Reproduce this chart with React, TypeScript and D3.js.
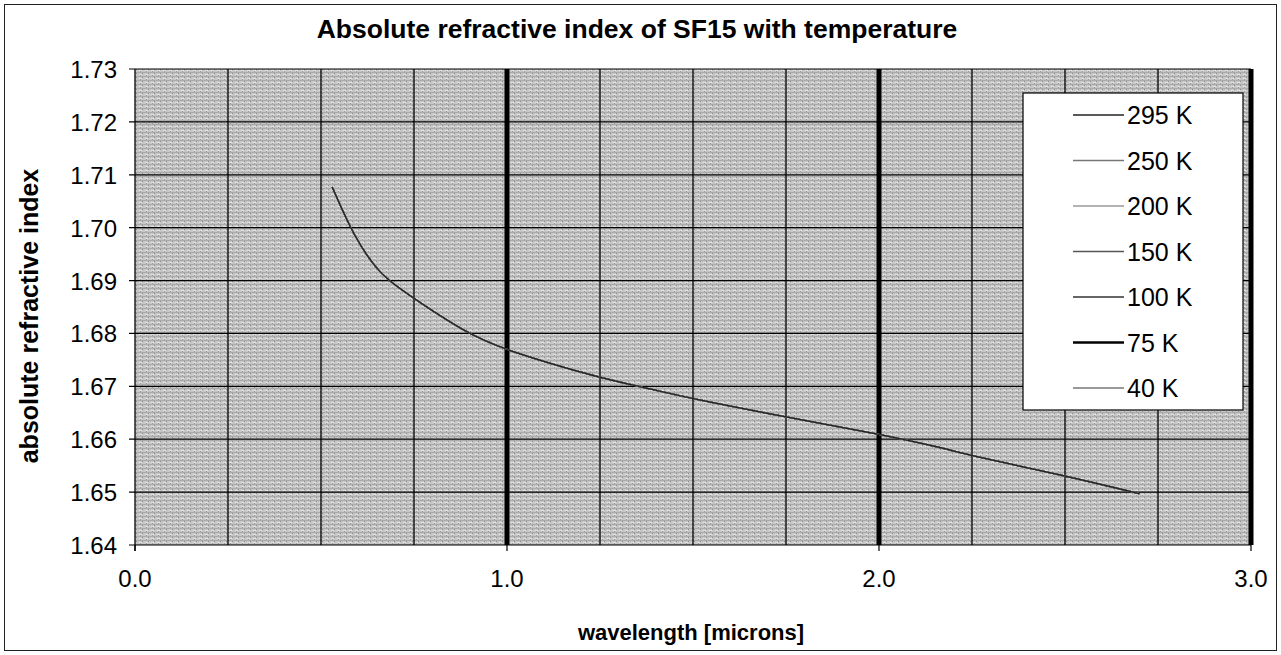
import React from "react";
import * as d3 from "d3";

const wavelengths = [0.53, 0.589, 0.656, 0.71, 0.756, 0.89, 1.0, 1.248, 1.375, 1.5, 1.75, 2.0, 2.163, 2.252, 2.5, 2.7];
const n295 = [1.7077, 1.6982, 1.6914, 1.6886, 1.6863, 1.6801, 1.6767, 1.6716, 1.6697, 1.6676, 1.6642, 1.661, 1.6585, 1.6568, 1.6531, 1.6497];
const n250 = [1.7077, 1.6982, 1.6914, 1.6886, 1.6863, 1.6801, 1.6767, 1.6716, 1.6697, 1.6676, 1.6642, 1.661, 1.6585, 1.6568, 1.6531, 1.6497];
const n200 = [1.7077, 1.6982, 1.6914, 1.6886, 1.6863, 1.6801, 1.6767, 1.6716, 1.6697, 1.6676, 1.6642, 1.661, 1.6585, 1.6568, 1.6531, 1.6497];
const n150 = [1.7077, 1.6982, 1.6914, 1.6886, 1.6863, 1.6801, 1.6767, 1.6716, 1.6697, 1.6676, 1.6642, 1.661, 1.6585, 1.6568, 1.6531, 1.6497];
const n100 = [1.7077, 1.6982, 1.6914, 1.6886, 1.6863, 1.6801, 1.6767, 1.6716, 1.6697, 1.6676, 1.6642, 1.661, 1.6585, 1.6568, 1.6531, 1.6497];
const n75 = [1.7077, 1.6982, 1.6914, 1.6886, 1.6863, 1.6801, 1.6767, 1.6716, 1.6697, 1.6676, 1.6642, 1.661, 1.6585, 1.6568, 1.6531, 1.6497];
const n40 = [1.7077, 1.6982, 1.6914, 1.6886, 1.6863, 1.6801, 1.6767, 1.6716, 1.6697, 1.6676, 1.6642, 1.661, 1.6585, 1.6568, 1.6531, 1.6497];

const seriesNames = ["295 K", "250 K", "200 K", "150 K", "100 K", "75 K", "40 K"];
const seriesValues = [n295, n250, n200, n150, n100, n75, n40];
const seriesColors = ["#222", "#777", "#9a9a9a", "#555", "#333", "#000", "#777"];
const seriesWidths = [1.3, 1.3, 1.3, 1.5, 1.6, 2.6, 1.5];

const yTicks = [1.64, 1.65, 1.66, 1.67, 1.68, 1.69, 1.7, 1.71, 1.72, 1.73];
const xTickLabels = [0, 1, 2, 3];
const xGrid = [0.25, 0.5, 0.75, 1, 1.25, 1.5, 1.75, 2, 2.25, 2.5, 2.75, 3];
const xMajor = [1, 2, 3];

const W = 1281;
const H = 655;
const left = 135;
const right = 1251;
const top = 69;
const bottom = 545;
const font = "'Liberation Sans', Arial, sans-serif";

export default function App() {
  const x = d3.scaleLinear().domain([0, 3]).range([left, right]);
  const y = d3.scaleLinear().domain([1.64, 1.73]).range([bottom, top]);
  const line = d3
    .line<[number, number]>()
    .x((d) => x(d[0]))
    .y((d) => y(d[1]))
    .curve(d3.curveBasis);

  const legendX = 1023;
  const legendY = 93;
  const legendW = 220;
  const legendH = 317;
  const step = 45.5;
  const first = 22;

  const order = [6, 5, 4, 3, 2, 1, 0];

  return (
    <svg
      width={W}
      height={H}
      style={{ position: "absolute", left: 0, top: 0, background: "#fff" }}
      fontFamily={font}
    >
      <defs>
        <pattern id="halftone" width="6" height="4" patternUnits="userSpaceOnUse">
          <rect width="6" height="4" fill="#c6c6c6" />
          <rect x="0" y="0" width="6" height="1" fill="#ababab" />
          <rect x="1" y="2" width="3" height="1" fill="#e2e2e2" />
          <rect x="4" y="1" width="1" height="1" fill="#8f8f8f" />
          <rect x="2" y="3" width="1" height="1" fill="#999" />
        </pattern>
      </defs>
      <rect x={4.5} y={4.5} width={1272} height={646} fill="#fff" stroke="#222" strokeWidth={1} />
      <text x={637} y={38} textAnchor="middle" fontSize={26.5} fontWeight="bold" fill="#000">
        Absolute refractive index of SF15 with temperature
      </text>

      <rect x={left} y={top} width={right - left} height={bottom - top} fill="url(#halftone)" />

      {yTicks.map((t) => (
        <g key={"y" + t}>
          <line x1={left - 6} x2={right} y1={y(t)} y2={y(t)} stroke="#000" strokeWidth={1.2} />
          <text x={117} y={y(t) + 9} textAnchor="end" fontSize={24} fill="#000">
            {d3.format(".2f")(t)}
          </text>
        </g>
      ))}

      {xGrid.map((t) => (
        <line
          key={"xg" + t}
          x1={x(t)}
          x2={x(t)}
          y1={top}
          y2={bottom}
          stroke="#000"
          strokeWidth={xMajor.includes(t) ? 5 : 1.3}
        />
      ))}
      <line x1={left} x2={left} y1={top} y2={bottom + 6} stroke="#000" strokeWidth={1.3} />
      {xTickLabels.map((t) => (
        <g key={"xt" + t}>
          <line x1={x(t)} x2={x(t)} y1={bottom} y2={bottom + 6} stroke="#000" strokeWidth={1.2} />
          <text x={x(t)} y={587} textAnchor="middle" fontSize={24} fill="#000">
            {d3.format(".1f")(t)}
          </text>
        </g>
      ))}

      {order.map((i) => (
        <path
          key={"s" + i}
          d={line(wavelengths.map((w, k) => [w, seriesValues[i][k]] as [number, number])) || ""}
          fill="none"
          stroke={seriesColors[i]}
          strokeWidth={i === 5 ? 1.4 : 1.2}
        />
      ))}

      <rect x={legendX} y={legendY} width={legendW} height={legendH} fill="#fff" stroke="#000" strokeWidth={1.2} />
      {seriesNames.map((name, i) => (
        <g key={"l" + i}>
          <line
            x1={legendX + 50}
            x2={legendX + 101}
            y1={legendY + first + i * step}
            y2={legendY + first + i * step}
            stroke={seriesColors[i]}
            strokeWidth={seriesWidths[i]}
          />
          <text x={legendX + 104} y={legendY + first + i * step + 9} fontSize={25} fill="#000">
            {name}
          </text>
        </g>
      ))}

      <text x={691} y={640} textAnchor="middle" fontSize={22} fontWeight="bold" fill="#000">
        wavelength [microns]
      </text>
      <text
        transform={`translate(38, 316) rotate(-90)`}
        textAnchor="middle"
        fontSize={25}
        fontWeight="bold"
        fill="#000"
      >
        absolute refractive index
      </text>
    </svg>
  );
}
